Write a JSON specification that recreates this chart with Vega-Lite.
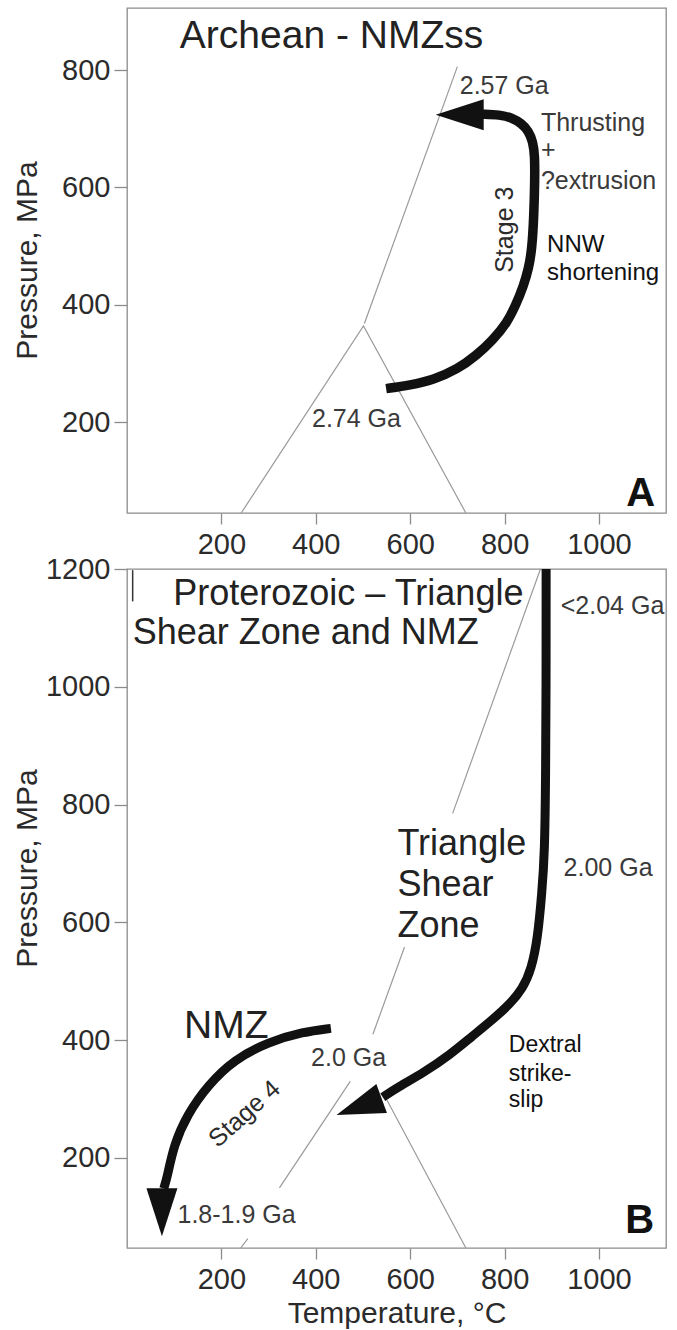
{
  "$schema": "https://vega.github.io/schema/vega-lite/v6.json",
  "background": "white",
  "padding": {"left": 11, "top": 7, "right": 12, "bottom": 4},
  "bounds": "flush",
  "spacing": 56,
  "config": {
    "font": "Liberation Sans",
    "view": {"stroke": "#8c8c8c", "strokeWidth": 1.3},
    "axis": {
      "grid": false, "domain": false, "format": "d",
      "labelFont": "Liberation Sans", "labelFontSize": 29, "labelColor": "#2b2b2b",
      "tickColor": "#8c8c8c", "tickWidth": 1.3,
      "titleFont": "Liberation Sans", "titleFontSize": 30, "titleFontWeight": "normal", "titleColor": "#2b2b2b"
    },
    "axisX": {"tickSize": 11, "labelPadding": 6},
    "axisY": {"tickSize": 13, "labelPadding": 4}
  },
  "datasets": {
    "thinA": [
      {"seg": "tri", "i": 1, "t": 242, "p": 45},
      {"seg": "tri", "i": 2, "t": 501, "p": 364},
      {"seg": "tri", "i": 3, "t": 718, "p": 45},
      {"seg": "up", "i": 1, "t": 503, "p": 368},
      {"seg": "up", "i": 2, "t": 700, "p": 806}
    ],
    "curveA": [
      {"i": 1, "t": 549, "p": 257},
      {"i": 2, "t": 600, "p": 263},
      {"i": 3, "t": 649, "p": 272},
      {"i": 4, "t": 700, "p": 290},
      {"i": 5, "t": 741, "p": 314},
      {"i": 6, "t": 775, "p": 340},
      {"i": 7, "t": 805, "p": 369},
      {"i": 8, "t": 824, "p": 400},
      {"i": 9, "t": 840, "p": 432},
      {"i": 10, "t": 851, "p": 462},
      {"i": 11, "t": 858, "p": 495},
      {"i": 12, "t": 862, "p": 551},
      {"i": 13, "t": 864, "p": 612},
      {"i": 14, "t": 864, "p": 654},
      {"i": 15, "t": 860, "p": 678},
      {"i": 16, "t": 851, "p": 696},
      {"i": 17, "t": 836, "p": 709},
      {"i": 18, "t": 815, "p": 719},
      {"i": 19, "t": 790, "p": 724},
      {"i": 20, "t": 752, "p": 725}
    ],
    "tipA": [{"t": 654, "p": 724}],
    "labelsA": [
      {"kind": "title", "text": "Archean - NMZss", "t": 112, "p": 838},
      {"kind": "age", "text": "2.57 Ga", "t": 705, "p": 760},
      {"kind": "age", "text": "2.74 Ga", "t": 392, "p": 192},
      {"kind": "note", "text": "Thrusting", "t": 877, "p": 697},
      {"kind": "note", "text": "+", "t": 877, "p": 650},
      {"kind": "note", "text": "?extrusion", "t": 877, "p": 598},
      {"kind": "note2", "text": "NNW", "t": 890, "p": 490},
      {"kind": "note2", "text": "shortening", "t": 890, "p": 443},
      {"kind": "stage", "text": "Stage 3", "t": 801, "p": 528},
      {"kind": "panel", "text": "A", "t": 1119, "p": 57}
    ],
    "thinB": [
      {"seg": "l1", "i": 1, "t": 241, "p": 47},
      {"seg": "l1", "i": 2, "t": 256, "p": 63},
      {"seg": "l2", "i": 1, "t": 323, "p": 149},
      {"seg": "l2", "i": 2, "t": 473, "p": 330},
      {"seg": "r1", "i": 1, "t": 551, "p": 298},
      {"seg": "r1", "i": 2, "t": 718, "p": 47},
      {"seg": "u1", "i": 1, "t": 521, "p": 410},
      {"seg": "u1", "i": 2, "t": 588, "p": 558},
      {"seg": "u2", "i": 1, "t": 690, "p": 785},
      {"seg": "u2", "i": 2, "t": 876, "p": 1200}
    ],
    "strayB": [{"t": 12, "p": 1145, "p2": 1198}],
    "curveB": [
      {"i": 1, "t": 888, "p": 1200},
      {"i": 2, "t": 888, "p": 1000},
      {"i": 3, "t": 887, "p": 850},
      {"i": 4, "t": 885, "p": 718},
      {"i": 5, "t": 879, "p": 650},
      {"i": 6, "t": 870, "p": 572},
      {"i": 7, "t": 857, "p": 521},
      {"i": 8, "t": 838, "p": 487},
      {"i": 9, "t": 811, "p": 461},
      {"i": 10, "t": 775, "p": 435},
      {"i": 11, "t": 729, "p": 405},
      {"i": 12, "t": 684, "p": 375},
      {"i": 13, "t": 629, "p": 345},
      {"i": 14, "t": 574, "p": 320},
      {"i": 15, "t": 542, "p": 303}
    ],
    "curveN": [
      {"i": 1, "t": 432, "p": 420},
      {"i": 2, "t": 373, "p": 414},
      {"i": 3, "t": 300, "p": 397},
      {"i": 4, "t": 227, "p": 367},
      {"i": 5, "t": 172, "p": 324},
      {"i": 6, "t": 127, "p": 273},
      {"i": 7, "t": 99, "p": 221},
      {"i": 8, "t": 86, "p": 170},
      {"i": 9, "t": 78, "p": 148}
    ],
    "tipB": [{"t": 444, "p": 273}],
    "tipN": [{"t": 74, "p": 67}],
    "labelsB": [
      {"kind": "title", "text": "Proterozoic – Triangle", "t": 98, "p": 1139},
      {"kind": "title", "text": "Shear Zone and NMZ", "t": 12, "p": 1072},
      {"kind": "title", "text": "Triangle", "t": 573, "p": 714},
      {"kind": "title", "text": "Shear", "t": 573, "p": 644},
      {"kind": "title", "text": "Zone", "t": 573, "p": 575},
      {"kind": "big", "text": "NMZ", "t": 121, "p": 403},
      {"kind": "age", "text": "<2.04 Ga", "t": 919, "p": 1123},
      {"kind": "age", "text": "2.00 Ga", "t": 925, "p": 678},
      {"kind": "age", "text": "2.0 Ga", "t": 390, "p": 356},
      {"kind": "age", "text": "1.8-1.9 Ga", "t": 107, "p": 89},
      {"kind": "note2", "text": "Dextral", "t": 809, "p": 380},
      {"kind": "note2", "text": "strike-", "t": 809, "p": 331},
      {"kind": "note2", "text": "slip", "t": 809, "p": 286},
      {"kind": "stage", "text": "Stage 4", "t": 249, "p": 275},
      {"kind": "panel", "text": "B", "t": 1117, "p": 72}
    ]
  },
  "vconcat": [
    {
      "width": 539,
      "height": 505,
      "encoding": {
        "x": {"field": "t", "type": "quantitative", "scale": {"domain": [0, 1142], "nice": false, "zero": false},
              "axis": {"values": [200, 400, 600, 800, 1000], "title": null, "format": "d"}},
        "y": {"field": "p", "type": "quantitative", "scale": {"domain": [45, 906], "nice": false, "zero": false},
              "axis": {"values": [200, 400, 600, 800], "format": "d", "title": "Pressure, MPa", "titleX": -85, "titleY": 252, "titleBaseline": "bottom", "titleAngle": 270, "titleAlign": "center"}}
      },
      "layer": [
        {"data": {"name": "thinA"}, "mark": {"type": "line", "color": "#9a9a9a", "strokeWidth": 1.2},
         "encoding": {"detail": {"field": "seg"}, "order": {"field": "i", "type": "quantitative"}}},
        {"data": {"name": "curveA"}, "mark": {"type": "line", "color": "#111111", "strokeWidth": 9.5, "interpolate": "basis", "strokeCap": "butt", "strokeJoin": "round"},
         "encoding": {"order": {"field": "i", "type": "quantitative"}}},
        {"data": {"name": "tipA"}, "mark": {"type": "point", "shape": "M0,0L2,-0.646L2,0.646Z", "size": 2304, "filled": true, "color": "#111111", "opacity": 1, "strokeWidth": 0, "angle": 0}},
        {"data": {"name": "labelsA"}, "transform": [{"filter": "datum.kind == 'title'"}],
         "mark": {"type": "text", "align": "left", "baseline": "alphabetic", "fontSize": 39, "color": "#222222"},
         "encoding": {"text": {"field": "text"}}},
        {"data": {"name": "labelsA"}, "transform": [{"filter": "datum.kind == 'age' || datum.kind == 'note'"}],
         "mark": {"type": "text", "align": "left", "baseline": "alphabetic", "fontSize": 25, "color": "#3a3a3a"},
         "encoding": {"text": {"field": "text"}}},
        {"data": {"name": "labelsA"}, "transform": [{"filter": "datum.kind == 'note2'"}],
         "mark": {"type": "text", "align": "left", "baseline": "alphabetic", "fontSize": 24, "color": "#111111"},
         "encoding": {"text": {"field": "text"}}},
        {"data": {"name": "labelsA"}, "transform": [{"filter": "datum.kind == 'stage'"}],
         "mark": {"type": "text", "align": "center", "baseline": "middle", "fontSize": 25, "color": "#2b2b2b", "angle": 270},
         "encoding": {"text": {"field": "text"}}},
        {"data": {"name": "labelsA"}, "transform": [{"filter": "datum.kind == 'panel'"}],
         "mark": {"type": "text", "align": "right", "baseline": "alphabetic", "fontSize": 40, "fontWeight": "bold", "color": "#111111"},
         "encoding": {"text": {"field": "text"}}}
      ]
    },
    {
      "width": 539,
      "height": 679,
      "encoding": {
        "x": {"field": "t", "type": "quantitative", "scale": {"domain": [0, 1142], "nice": false, "zero": false},
              "axis": {"values": [200, 400, 600, 800, 1000], "format": "d", "title": "Temperature, °C", "titlePadding": 4}},
        "y": {"field": "p", "type": "quantitative", "scale": {"domain": [47, 1200], "nice": false, "zero": false},
              "axis": {"values": [200, 400, 600, 800, 1000, 1200], "format": "d", "title": "Pressure, MPa", "titleX": -85, "titleY": 299, "titleBaseline": "bottom", "titleAngle": 270, "titleAlign": "center"}}
      },
      "layer": [
        {"data": {"name": "thinB"}, "mark": {"type": "line", "color": "#9a9a9a", "strokeWidth": 1.2},
         "encoding": {"detail": {"field": "seg"}, "order": {"field": "i", "type": "quantitative"}}},
        {"data": {"name": "strayB"}, "mark": {"type": "rule", "color": "#333333", "strokeWidth": 1.5},
         "encoding": {"y2": {"field": "p2"}}},
        {"data": {"name": "curveB"}, "mark": {"type": "line", "color": "#111111", "strokeWidth": 9, "interpolate": "basis", "strokeCap": "butt", "strokeJoin": "round"},
         "encoding": {"order": {"field": "i", "type": "quantitative"}}},
        {"data": {"name": "curveN"}, "mark": {"type": "line", "color": "#111111", "strokeWidth": 9, "interpolate": "basis", "strokeCap": "butt", "strokeJoin": "round"},
         "encoding": {"order": {"field": "i", "type": "quantitative"}}},
        {"data": {"name": "tipB"}, "mark": {"type": "point", "shape": "M0,0L2,-0.646L2,0.646Z", "size": 2304, "filled": true, "color": "#111111", "opacity": 1, "strokeWidth": 0, "angle": 340}},
        {"data": {"name": "tipN"}, "mark": {"type": "point", "shape": "M0,0L2,-0.646L2,0.646Z", "size": 2304, "filled": true, "color": "#111111", "opacity": 1, "strokeWidth": 0, "angle": 270}},
        {"data": {"name": "labelsB"}, "transform": [{"filter": "datum.kind == 'title'"}],
         "mark": {"type": "text", "align": "left", "baseline": "alphabetic", "fontSize": 36, "color": "#222222"},
         "encoding": {"text": {"field": "text"}}},
        {"data": {"name": "labelsB"}, "transform": [{"filter": "datum.kind == 'big'"}],
         "mark": {"type": "text", "align": "left", "baseline": "alphabetic", "fontSize": 39, "color": "#222222"},
         "encoding": {"text": {"field": "text"}}},
        {"data": {"name": "labelsB"}, "transform": [{"filter": "datum.kind == 'age'"}],
         "mark": {"type": "text", "align": "left", "baseline": "alphabetic", "fontSize": 25, "color": "#3a3a3a"},
         "encoding": {"text": {"field": "text"}}},
        {"data": {"name": "labelsB"}, "transform": [{"filter": "datum.kind == 'note2'"}],
         "mark": {"type": "text", "align": "left", "baseline": "alphabetic", "fontSize": 23, "color": "#111111"},
         "encoding": {"text": {"field": "text"}}},
        {"data": {"name": "labelsB"}, "transform": [{"filter": "datum.kind == 'stage'"}],
         "mark": {"type": "text", "align": "center", "baseline": "middle", "fontSize": 25, "color": "#2b2b2b", "angle": 318},
         "encoding": {"text": {"field": "text"}}},
        {"data": {"name": "labelsB"}, "transform": [{"filter": "datum.kind == 'panel'"}],
         "mark": {"type": "text", "align": "right", "baseline": "alphabetic", "fontSize": 40, "fontWeight": "bold", "color": "#111111"},
         "encoding": {"text": {"field": "text"}}}
      ]
    }
  ]
}
